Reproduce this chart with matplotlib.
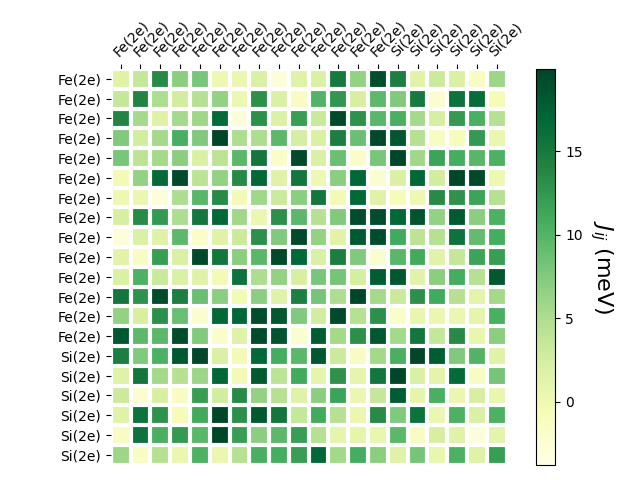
import numpy as np
import matplotlib
matplotlib.use('Agg')
import matplotlib.pyplot as plt

# site labels
labels = ['Fe(2e)'] * 14 + ['Si(2e)'] * 6

# exchange couplings J_ij (meV), read row by row
row01 = [1.5, 3.5, 13.5, 7, 8, 0, 0.3, 2, -3, 1.5, 2, 15, 6.5, 19, 14.5, 1.2, 3, 2, -1.5, 6]
row02 = [3.5, 14, 5, 2.5, 4.5, 6.5, 0.2, 13, 2, -1.5, 10, 12.5, 2.2, 9.5, 7.5, 15, -2.5, 15.8, 16.3, -0.8]
row03 = [14, 5.5, 1.5, 5.5, 6, 16.5, -3, 13, 1.8, 12, 3.2, 19.5, 12.8, 9.7, 10.5, 5.5, 2.3, 12.3, 10.5, 4.5]
row04 = [7.5, 2.5, 5.6, 10.6, 7.5, 19.8, 5, 5, 9.5, 2.4, 2, 14.5, 8.7, 19.5, 18.3, 4.5, -1.5, -1.2, 12.3, 0.3]
row05 = [8, 4, 5.6, 7, 2, 4, 9.6, 15.2, -1.8, 19.5, 2, 8.7, -2, 8, 19.8, 5.8, 11.5, 10.8, 9.8, 10.3]
row06 = [-0.3, 6.5, 16.5, 19.5, 4, 6.5, 13.5, 16.8, 1.5, 15.2, 0, 7, 16.8, -2.5, 2, 17, 2.5, 19.8, 19.5, 0]
row07 = [0, 0.3, -3, 5, 9.7, 13.5, -0.3, 5.8, 3, 7, 15.2, -0.3, 16.8, 1.5, -0.8, 0, 13.5, 12.8, 11.5, 4.5]
row08 = [2.2, 13.5, 12.3, 5, 15.2, 16.8, 5.8, 0.3, 13, 9.6, 4.5, 7.5, 19.2, 19.2, 16.8, 18.6, 6.5, 18, 7, 10.3]
row09 = [-3, 2, 1.5, 9.5, -2, 1.5, 3, 13, 7.5, 19.5, 6.5, 1.2, 18, 19.2, 11, 4, 4.5, 15.8, 9.2, 10.8]
row10 = [1.2, -1.5, 12, 2, 19.5, 15.2, 7, 9.7, 19.5, 16.8, 2, 14.5, 7.5, -2.2, 9.7, 11, 1.2, 3.5, 11.5, 12]
row11 = [2, 10.3, 3.2, 2, 1.5, -0.3, 15.8, 5, 6.5, 2.2, 8, 8.2, 2.4, 17.8, 18.3, 1.2, 7, 10.8, 4.5, 18.3]
row12 = [15.2, 12.8, 19.2, 14.5, 8.7, 7, -0.3, 7, 1.5, 14.5, 8.2, 5, 19.8, 5.5, 3, 13, 11, 4.5, 1, 5.6]
row13 = [6.5, 2.2, 13, 8.7, -2.2, 16.8, 17, 19.2, 18.3, 7.5, 2.5, 19.5, 4.5, 13, -2, 0.6, 0.3, 0.3, 0.9, 10.5]
row14 = [18.3, 9.5, 9.6, 19.2, 7.5, -2, 1.5, 19.2, 18.6, -2.2, 17.8, 5.6, 13, 18.3, 5.6, 15.2, 3.5, 13.5, 0.6, 7]
row15 = [14.5, 7.5, 10.3, 18.3, 19.8, 2, -0.3, 16.8, 10.8, 9.6, 18.3, 3, -1.5, 5.6, 10.5, 19.8, 17.8, 7.5, 10, 1.5]
row16 = [1.5, 15.2, 5.6, 4.5, 6, 17, -0.3, 18, 4, 11, 0.9, 12.8, 0.9, 15.2, 19.8, 2, 1, 16.5, -1.5, 8.2]
row17 = [3, -2.5, 2.2, -1.5, 12, 2.5, 13.5, 6.5, 4.5, 1.5, 7, 11.5, 0.3, 3.5, 17.8, 0.9, 10.5, 0.3, 2.2, 0.6]
row18 = [1.5, 15.8, 12.8, -0.8, 11, 19.8, 13, 18, 15.2, 3.5, 11, 4.5, 0.3, 13.5, 7.5, 15.8, 0.3, 10.3, 2, 10.3]
row19 = [-1.5, 15.8, 10.5, 12.3, 9.7, 19.8, 12, 7, 9.5, 12, 4.5, 0.9, 0.9, 0.6, 9.6, -1.5, 2.2, 1.5, -3, 1]
row20 = [6, -1.5, 4.5, 0.3, 10.3, 0.3, 4.5, 10.5, 10.8, 12, 16.8, 5.6, 10.8, 7, 1.5, 8.2, 0.6, 10.3, 1.5, 12]

J = np.array([row01, row02, row03, row04, row05, row06, row07, row08, row09, row10,
              row11, row12, row13, row14, row15, row16, row17, row18, row19, row20])

fig = plt.figure(figsize=(6.4, 4.8), dpi=100)
ax = fig.add_axes([0.1731, 0.03125, 0.6184, 0.8256])
cax = fig.add_axes([0.837, 0.03125, 0.0306, 0.8244])

im = ax.imshow(J, cmap='YlGn', vmin=-3.8, vmax=19.9)

cbar = fig.colorbar(im, cax=cax)
cbar.set_ticks([0, 5, 10, 15])
cbar.ax.set_ylabel(r'$J_{ij}$ (meV)', rotation=-90, va='bottom', fontsize=16)

ax.set_xticks(np.arange(J.shape[1]))
ax.set_yticks(np.arange(J.shape[0]))
ax.set_xticklabels(labels)
ax.set_yticklabels(labels)

# labels on top
ax.tick_params(top=True, bottom=False, labeltop=True, labelbottom=False)
plt.setp(ax.get_xticklabels(), rotation=45, ha='left', rotation_mode='anchor')

for edge, spine in ax.spines.items():
    spine.set_visible(False)

# white grid between cells
ax.set_xticks(np.arange(J.shape[1] + 1) - .5, minor=True)
ax.set_yticks(np.arange(J.shape[0] + 1) - .5, minor=True)
ax.grid(which='minor', color='w', linestyle='-', linewidth=3)
ax.tick_params(which='minor', bottom=False, left=False, top=False)

fig.savefig('out.png', dpi=100)
